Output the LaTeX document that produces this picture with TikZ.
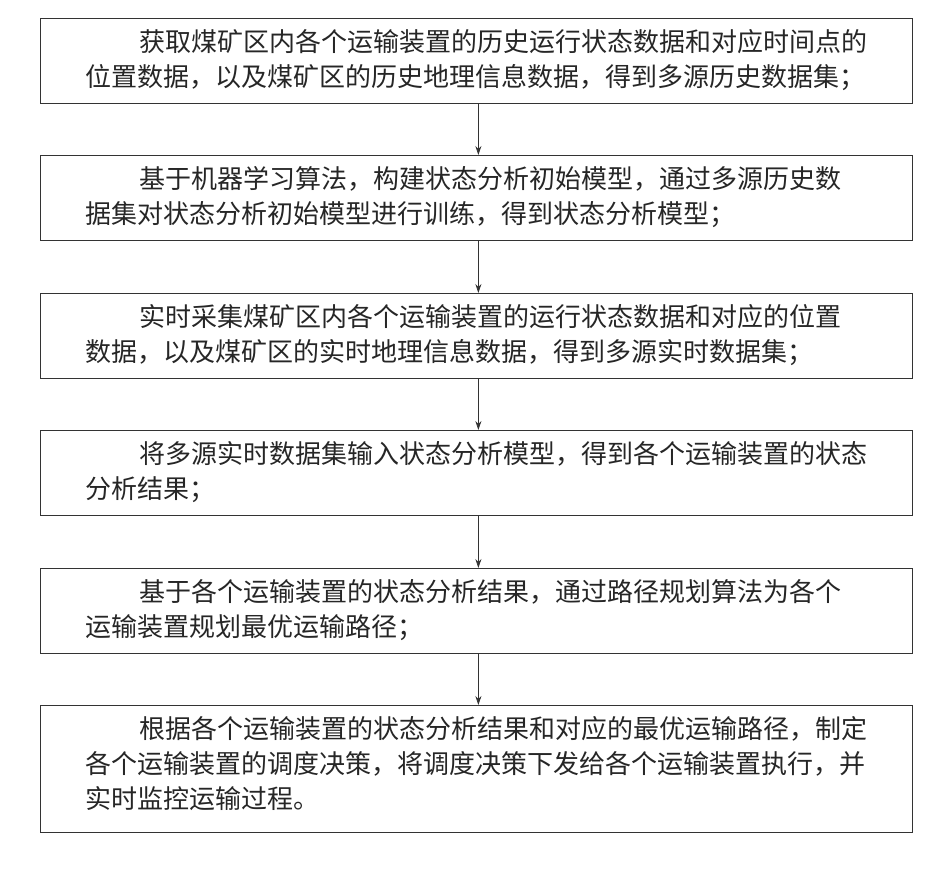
\documentclass[tikz,border=0pt]{standalone}
\usepackage{fontspec}
\setmainfont{Noto Sans CJK SC}
\usetikzlibrary{arrows.meta}
\begin{document}
\begin{tikzpicture}[x=1pt,y=-1pt,
  stepbox/.style={draw=black!80,line width=0.8pt,minimum width=872pt,anchor=north west,inner sep=0pt},
  txt/.style={anchor=north west,align=left,font=\fontsize{26}{35}\selectfont,text=black!85},
  conn/.style={-{Stealth[length=9pt,width=6pt]},line width=0.7pt,black!80}]
\useasboundingbox (0,0) rectangle (932,871);
\node[stepbox,minimum height=85pt] (b1) at (40,18) {};
\node[stepbox,minimum height=85pt] (b2) at (40,155) {};
\node[stepbox,minimum height=85pt] (b3) at (40,293) {};
\node[stepbox,minimum height=85pt] (b4) at (40,430) {};
\node[stepbox,minimum height=85pt] (b5) at (40,568) {};
\node[stepbox,minimum height=127pt] (b6) at (40,705) {};
\node[txt] (t1) at (82,26) {\hspace*{54pt}获取煤矿区内各个运输装置的历史运行状态数据和对应时间点的\\位置数据，以及煤矿区的历史地理信息数据，得到多源历史数据集；};
\node[txt] (t2) at (82,163) {\hspace*{54pt}基于机器学习算法，构建状态分析初始模型，通过多源历史数\\据集对状态分析初始模型进行训练，得到状态分析模型；};
\node[txt] (t3) at (82,301) {\hspace*{54pt}实时采集煤矿区内各个运输装置的运行状态数据和对应的位置\\数据，以及煤矿区的实时地理信息数据，得到多源实时数据集；};
\node[txt] (t4) at (82,438) {\hspace*{54pt}将多源实时数据集输入状态分析模型，得到各个运输装置的状态\\分析结果；};
\node[txt] (t5) at (82,576) {\hspace*{54pt}基于各个运输装置的状态分析结果，通过路径规划算法为各个\\运输装置规划最优运输路径；};
\node[txt] (t6) at (82,713) {\hspace*{54pt}根据各个运输装置的状态分析结果和对应的最优运输路径，制定\\各个运输装置的调度决策，将调度决策下发给各个运输装置执行，并\\实时监控运输过程。};
\draw[conn] (b1.south) ++(2,0) coordinate (a1) -- (a1 |- b2.north);
\draw[conn] (b2.south) ++(2,0) coordinate (a2) -- (a2 |- b3.north);
\draw[conn] (b3.south) ++(2,0) coordinate (a3) -- (a3 |- b4.north);
\draw[conn] (b4.south) ++(2,0) coordinate (a4) -- (a4 |- b5.north);
\draw[conn] (b5.south) ++(2,0) coordinate (a5) -- (a5 |- b6.north);
\end{tikzpicture}
\end{document}
